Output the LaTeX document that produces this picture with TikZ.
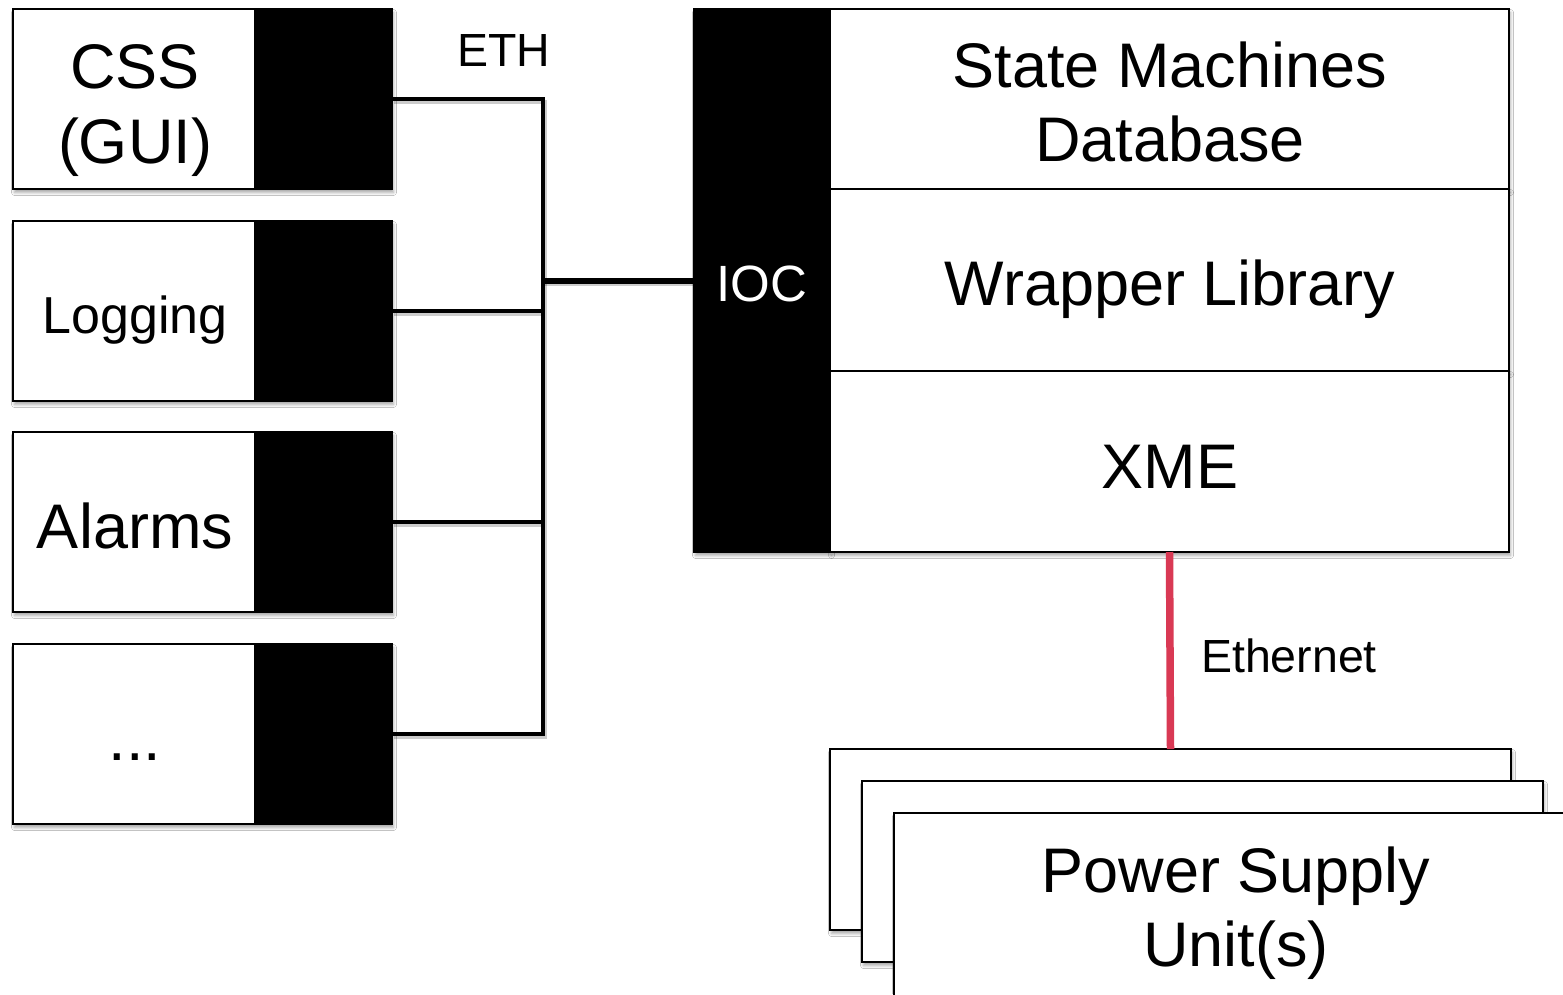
\documentclass[tikz,border=0pt]{standalone}
\usepackage{fontspec}
\setmainfont{Liberation Sans}
\usetikzlibrary{shadows.blur}

\begin{document}
\begin{tikzpicture}[x=1pt,y=-1pt,
  softshadow/.style={blur shadow={shadow xshift=1.5pt,shadow yshift=-3.5pt,shadow blur radius=3pt,shadow opacity=35}},
  panel/.style={draw=black,line width=1.6pt,fill=white,inner sep=0pt,outer sep=0pt,anchor=north west,softshadow},
  port/.style={draw=black,line width=1.6pt,fill=black,inner sep=0pt,outer sep=0pt,anchor=north east,
    minimum width=137pt,minimum height=180pt},
  client/.style={panel,minimum width=379pt,minimum height=180pt},
  layer/.style={panel,minimum width=679pt},
  psu/.style={panel,minimum width=681pt,minimum height=181pt},
  wire/.style={line width=4.5pt,line join=miter,
    preaction={draw=black,opacity=0.2,line width=4.5pt,transform canvas={xshift=1.5pt,yshift=-3pt}}},
  trunk/.style={wire,line width=6pt},
  redlink/.style={draw={rgb,255:red,217;green,57;blue,84},line width=7.5pt},
  big/.style={anchor=base,inner sep=0pt,font=\fontsize{63}{74}\selectfont},
  mid/.style={anchor=base,inner sep=0pt,font=\fontsize{52}{60}\selectfont},
  small/.style={anchor=base,inner sep=0pt,font=\fontsize{46.5}{54}\selectfont},
]
\useasboundingbox (0,0) rectangle (1563,994);
\fill[white] (0,0) rectangle (1563,994);

% client applications on the left
\node[client] (css) at (13,9) {};
\node[port] (cssport) at (css.north east) {};
\node[client] (log) at (13,221) {};
\node[port] (logport) at (log.north east) {};
\node[client] (alarm) at (13,432) {};
\node[port] (alarmport) at (alarm.north east) {};
\node[client] (more) at (13,644) {};
\node[port] (moreport) at (more.north east) {};

\node[big] (cssa) at (135,88) {CSS};
\node[big] (cssb) at (135,163) {(GUI)};
\node[mid] (loglbl) at (135,333) {Logging};
\node[big] (alarmlbl) at (135,548) {Alarms};
\node[big] (morelbl) at (135,760) {...};

% IOC with its software layers
\node[panel,fill=black,minimum width=136pt,minimum height=543pt] (ioc) at (694,9) {};
\node[layer,minimum height=180pt] (sm) at (830,9) {};
\node[layer,minimum height=182pt] (wl) at (830,189) {};
\node[layer,minimum height=181pt] (xme) at (830,371) {};

\node[anchor=base,inner sep=0pt,text=white,font=\fontsize{51}{60}\selectfont] (ioclbl) at (762,301) {IOC};
\node[big] (sma) at (1170,87) {State Machines};
\node[big] (smb) at (1170,161) {Database};
\node[big] (wllbl) at (1170,305) {Wrapper Library};
\node[big] (xmelbl) at (1170,488) {XME};

% stacked power supply units
\node[psu] (psu1) at (830,749) {};
\node[psu] (psu2) at (862,781) {};
\node[psu,minimum width=720pt,minimum height=220pt] (psu3) at (894,813) {};
\node[big] (psua) at (1236,892) {Power Supply};
\node[big] (psub) at (1236,966) {Unit(s)};

% network connections
\coordinate (bx) at (543,0);
\draw[wire] (cssport.east) -- (cssport.east -| bx) -- (moreport.east -| bx) -- (moreport.east);
\draw[wire] (logport.east) -- (logport.east -| bx);
\draw[wire] (alarmport.east) -- (alarmport.east -| bx);
\draw[trunk] (ioc.west -| bx) -- (ioc.west);
\node[small] (eth) at (504,66) {ETH};

\draw[redlink] (xme.south) -- (psu1.north);
\node[small] (ethernet) at (1289,672) {Ethernet};
\end{tikzpicture}
\end{document}
